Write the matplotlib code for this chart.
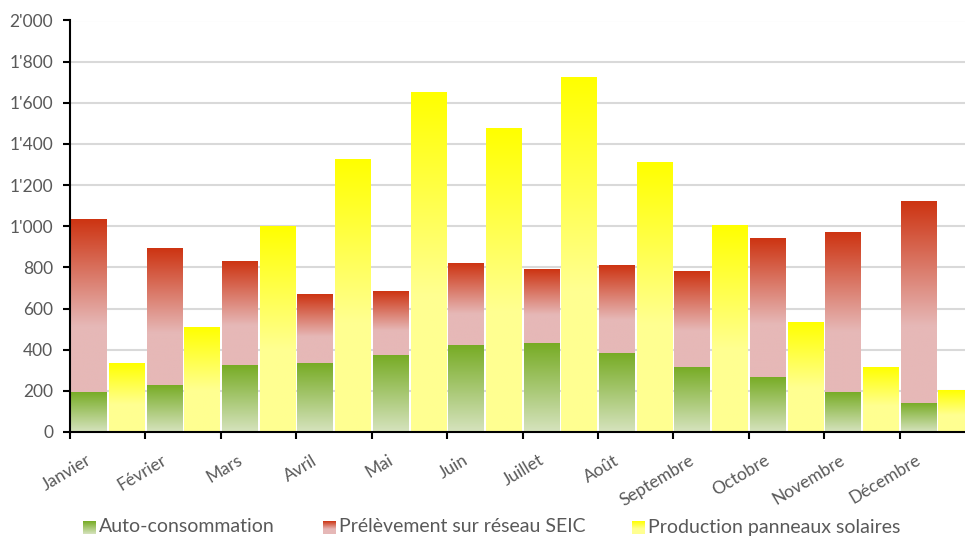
import numpy as np
import matplotlib
matplotlib.use('Agg')
import matplotlib.pyplot as plt
import matplotlib.ticker as tck
from matplotlib.transforms import offset_copy

# plotting parameters
plt.rcParams['font.family'] = ['Lato', 'DejaVu Sans']

# data (kWh per month)
mois = ['Janvier', 'Février', 'Mars', 'Avril', 'Mai', 'Juin', 'Juillet',
        'Août', 'Septembre', 'Octobre', 'Novembre', 'Décembre']
auto_conso = [196, 230, 327, 337, 376, 425, 434, 385, 317, 268, 196, 143]
consommation_totale = [1032, 891, 832, 672, 687, 822, 789, 808, 779, 943, 973, 1124]
production = [332, 508, 998, 1322, 1649, 1474, 1721, 1308, 1002, 531, 312, 200]
prelevement = [t - a for t, a in zip(consommation_totale, auto_conso)]

labels = ['Auto-consommation', 'Prélèvement sur réseau SEIC',
          'Production panneaux solaires']

# gradient colours: (top colour, bottom colour, fraction of bar covered by gradient)
grad_vert = ((118, 171, 35), (214, 227, 190), 1.0)
grad_rouge = ((205, 52, 18), (230, 184, 183), 0.62)
grad_jaune = ((255, 255, 0), (255, 255, 145), 0.6)

text_col = '#595959'
grid_col = '#D9D9D9'


def gradient(style, n=200):
    top, bottom, frac = style
    t = np.linspace(1, 0, n)  # row 0 = bottom (origin lower), t = distance from top
    t = np.clip(t / frac, 0, 1)
    top = np.array(top) / 255
    bottom = np.array(bottom) / 255
    rows = top[None, :] * (1 - t[:, None]) + bottom[None, :] * t[:, None]
    return rows[:, None, :]


def gradient_bar(ax, x, bottom, height, width, style):
    bars = ax.bar(x, height, width, bottom=bottom, color='none', zorder=3)
    for b in bars:
        x0, y0 = b.get_x(), b.get_y()
        ax.imshow(gradient(style), extent=[x0, x0 + b.get_width(), y0, y0 + b.get_height()],
                  origin='lower', aspect='auto', interpolation='bilinear', zorder=2)
    return bars


fig = plt.figure(figsize=(9.65, 5.37), dpi=100)
ax = fig.add_axes([70 / 965, 105 / 537, 905 / 965, 411.5 / 537])

x = np.arange(len(mois))
w = 0.47
gradient_bar(ax, x - 0.25, 0, auto_conso, w, grad_vert)
gradient_bar(ax, x - 0.25, auto_conso, prelevement, w, grad_rouge)
gradient_bar(ax, x + 0.25, 0, production, w, grad_jaune)

ax.set_xlim(-0.5, len(mois) - 0.5)
ax.set_ylim(0, 2000)

# axes styling
ax.yaxis.set_major_locator(tck.MultipleLocator(200))
ax.yaxis.set_major_formatter(tck.FuncFormatter(lambda v, p: f'{v:,.0f}'.replace(',', "'")))
ax.grid(axis='y', color=grid_col, linewidth=1.5, zorder=0)
ax.set_axisbelow(True)
for s in ['top', 'right']:
    ax.spines[s].set_visible(False)
for s in ['left', 'bottom']:
    ax.spines[s].set_linewidth(1.5)
    ax.spines[s].set_zorder(5)
ax.tick_params(axis='y', length=5, width=1.5, labelsize=12.5, labelcolor=text_col, pad=7)

ax.set_xticks(x)
ax.set_xticks(np.arange(len(mois)) - 0.5, minor=True)
ax.tick_params(axis='x', which='major', length=0)
ax.tick_params(axis='x', which='minor', length=5, width=1.5, direction='out')
ax.set_xticklabels([])
for i, m in enumerate(mois):
    trans = offset_copy(ax.get_xaxis_transform(), fig=fig, x=-18, y=-27, units='dots')
    ax.text(i, 0, m, transform=trans, rotation=31, rotation_mode='anchor',
            ha='right', va='center', fontsize=12.5, color=text_col)

# legend with gradient squares
leg_x = [83, 323, 632]
styles = [grad_vert, grad_rouge, grad_jaune]
for lx, lab, st in zip(leg_x, labels, styles):
    sq = fig.add_axes([lx / 965, (537 - 534) / 537, 13 / 965, 13 / 537])
    sq.imshow(gradient(st), origin='lower', aspect='auto', interpolation='bilinear')
    sq.axis('off')
    fig.text((lx + 16) / 965, (537 - 527) / 537, lab, ha='left', va='center',
             fontsize=14, color=text_col)

plt.savefig('out.png', dpi=100)
